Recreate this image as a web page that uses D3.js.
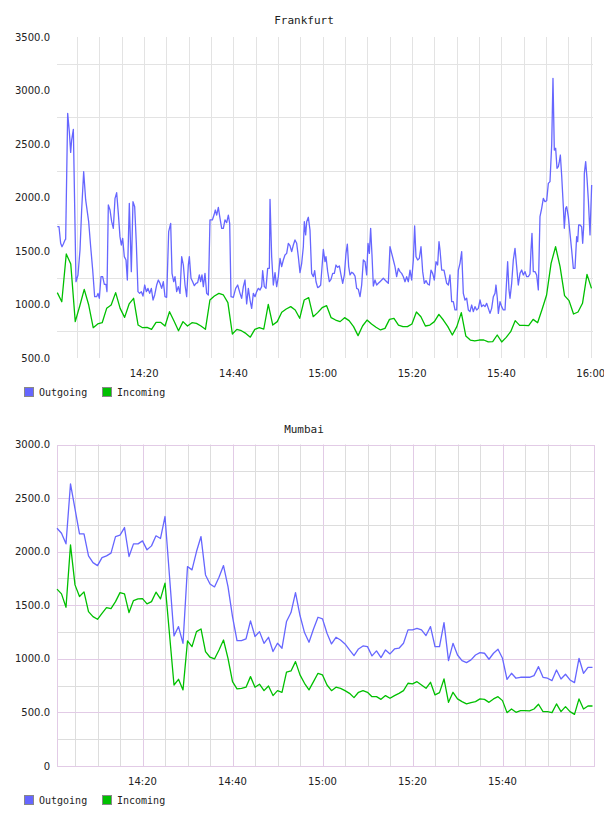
<!DOCTYPE html>
<html><head><meta charset="utf-8">
<script src="https://cdn.jsdelivr.net/npm/d3@7"></script>
<style>
html,body{margin:0;padding:0;background:#fff;}
svg{display:block;}
</style></head>
<body>
<svg id="c" width="604" height="816"></svg>
<script>
// ---------------- DATA ----------------
const seriesNames = ["Outgoing", "Incoming"];
const seriesColors = ["#6666ff", "#00c000"];

// Frankfurt outgoing: minutes after 14:00 and values
const fraOutT = [0.57,0.95,1.32,1.62,1.92,2.29,2.44,2.89,3.26,3.56,3.78,4.16,4.75,5.2,5.65,6.02,6.47,6.92,7.59,8.04,8.49,8.93,9.38,9.68,9.98,10.35,10.72,11.1,11.47,11.69,11.99,12.37,12.74,13.11,13.49,13.86,14.23,14.6,14.9,15.2,15.57,15.95,16.25,16.69,17.14,17.51,17.89,18.26,18.63,19.0,19.38,19.75,20.13,20.5,20.87,21.25,21.62,22.0,22.37,22.81,23.19,23.56,23.93,24.31,24.68,25.05,25.5,25.95,26.25,26.62,26.92,27.29,27.66,28.04,28.41,28.79,29.16,29.53,29.9,30.13,30.5,30.87,31.25,31.62,31.99,32.37,32.66,32.96,33.26,33.63,34.01,34.38,34.75,35.28,35.65,35.95,36.25,36.62,37.0,37.37,37.74,38.11,38.49,38.86,39.16,39.46,39.98,40.5,40.95,41.47,
41.84,42.22,42.59,42.96,43.34,43.71,44.08,44.46,44.83,45.2,45.57,45.95,46.32,46.54,46.92,47.29,47.66,48.04,48.19,48.56,48.93,49.31,49.68,50.05,50.43,50.8,51.17,51.54,51.92,52.29,52.66,53.04,53.41,53.78,54.16,54.53,54.9,55.28,55.65,55.87,56.17,56.4,56.77,57.14,57.51,57.89,58.19,58.49,58.86,59.23,59.53,60.13,60.5,60.72,61.1,61.47,61.84,62.22,62.59,62.96,63.34,63.71,64.08,64.46,64.83,65.2,65.5,65.8,66.1,66.47,66.84,67.22,67.59,67.96,68.34,68.71,69.08,69.46,69.83,70.13,70.43,70.72,71.02,71.32,71.69,72.07,72.44,72.81,73.19,73.56,73.93,74.31,74.68,75.05,75.43,75.8,76.17,76.54,76.92,77.29,77.66,78.04,78.41,78.78,79.16,79.53,79.9,80.28,80.57,80.87,81.25,81.62,81.99,82.37,82.74,83.11,83.49,83.86,84.23,84.6,84.98,85.35,85.72,86.02,86.25,
86.62,87.14,87.74,88.11,88.48,88.86,89.23,89.6,89.98,90.35,90.72,91.1,91.47,91.84,92.22,92.59,92.96,93.33,93.71,94.08,94.45,94.83,95.2,95.57,95.95,96.32,96.69,97.07,97.44,97.81,98.19,98.56,98.78,99.08,99.31,99.68,100.05,100.42,100.8,101.17,101.39,101.69,101.92,102.29,102.66,103.04,103.41,103.78,104.16,104.53,104.9,105.28,105.65,106.02,106.39,106.62,106.84,107.14,107.51,107.89,108.26,108.63,109.01,109.38,109.75,110.13,110.5,110.87,111.25,111.54,111.84,112.14,112.44,112.74,112.96,113.19,113.48,113.86,114.08,114.38,114.6,114.98,115.35,115.72,116.1,116.47,116.84,117.07,117.29,117.59,117.96,118.19,118.41,118.56,118.86,119.16,119.46,119.83,120.2];
const fraOut = [1727,1727,1572,1540,1565,1603,1609,2787,2615,2422,2537,2637,1213,1276,1509,1883,2241,1977,1774,1540,1322,1073,1073,1104,1058,1260,1260,1188,1188,1120,1930,1883,1774,1712,1992,2045,1852,1634,1556,1618,1447,1416,1229,1946,1307,1961,1914,1572,1120,1104,1120,1079,1182,1120,1151,1104,1151,1042,1089,1182,1229,1198,1151,1213,1073,1067,1681,1759,1291,1213,1260,1120,1167,1104,1447,1369,1182,1073,1369,1447,1245,1213,1176,1198,1204,1276,1213,1276,1167,1291,1104,1089,1790,1790,1836,1883,1836,1908,1805,1712,1712,1790,1765,1836,1759,1073,1067,1151,1182,1104,
1058,1167,1229,1005,1151,1042,964,1104,1073,1120,1151,1136,1167,1316,1167,1151,1338,1338,1983,1447,1182,1298,1167,1260,1431,1354,1416,1463,1478,1572,1550,1494,1556,1603,1572,1447,1298,1385,1540,1774,1650,1774,1815,1696,1291,1260,1316,1213,1157,1167,1182,1516,1400,1447,1307,1213,1235,1291,1291,1369,1347,1360,1276,1198,1276,1478,1565,1354,1276,1301,1291,1266,1151,1142,1073,1182,1416,1400,1276,1572,1478,1712,1463,1173,1229,1182,1198,1213,1229,1245,1229,1213,1198,1540,1478,1416,1354,1260,1338,1307,1291,1260,1213,1260,1213,1322,1229,1416,1734,1447,1416,1431,1540,1307,1198,1223,1192,1182,1322,1291,1229,1400,1369,1587,1509,
1322,1322,1198,1182,1276,1026,1026,949,949,1322,1385,1494,1104,1042,1058,949,933,995,933,980,949,964,1042,980,995,980,1011,964,917,964,1073,1104,1182,1058,917,1026,980,949,949,1229,1400,1136,1058,1198,1416,1525,1354,1182,1291,1322,1276,1307,1260,1260,1285,1509,1665,1307,1307,1276,1136,1821,1899,1992,1961,1970,2132,2148,2491,3114,2444,2460,2273,2288,2335,2397,2210,1914,1712,1899,1914,1821,1665,1509,1338,1338,1634,1587,1743,1743,1727,1572,1727,2226,2335,2179,1977,1650,2117];

// Frankfurt incoming: one sample per ~minute from 14:00:34
const fraIn = [1111,1026,1472,1378,840,986,1142,995,783,818,830,964,995,1111,964,880,1005,1058,808,783,787,768,833,833,799,933,846,755,840,799,830,824,799,768,1042,1079,1104,1089,1017,724,768,
755,730,695,768,783,771,1002,808,840,927,958,980,949,871,1042,1064,886,924,970,989,877,855,840,877,849,793,709,799,855,818,787,762,777,861,871,808,793,793,818,930,886,799,808,840,908,
855,793,715,793,924,706,668,659,668,668,650,653,715,650,693,746,849,805,805,802,861,830,955,1089,1385,1540,1354,1083,1036,911,930,1011,1282,1151];

// Mumbai: one sample per minute from 14:01
const mumOut = [2219,2172,2073,2633,2400,2166,2166,1961,1898,1870,1945,1961,1986,2141,2154,2225,1955,2073,2073,2101,2017,2054,2148,2123,2328,1770,1214,1301,1145,1861,1830,2001,2141,1783,1699,1671,1762,1870,1674,1394,1170,1170,1186,1354,1208,1254,1145,1201,1068,1145,1099,1348,1432,1618,1404,1245,1155,1279,1388,1373,1239,1139,1201,1176,1139,1083,1030,1092,1120,1114,1027,1074,1012,1083,1046,1092,1099,1145,1270,1270,1285,1270,1217,1301,1114,1114,1338,983,1145,1036,983,965,990,1036,1058,1052,996,1052,1089,1005,809,865,819,828,828,828,843,927,828,819,797,896,812,856,803,778,1005,865,921,921];
const mumIn = [1650,1606,1481,2063,1690,1581,1625,1441,1394,1369,1425,1478,1469,1534,1618,1606,1432,1544,1559,1562,1513,1534,1622,1559,1706,1230,756,809,710,1167,1114,1254,1279,1068,1015,999,1083,1176,1005,787,719,725,735,834,735,763,703,747,657,703,688,875,887,974,850,772,710,787,865,850,756,703,735,725,703,678,638,688,703,688,647,647,622,657,632,657,678,703,772,766,787,756,725,781,663,685,812,594,688,626,601,579,591,601,626,622,594,626,647,610,498,532,501,517,517,514,532,576,507,507,498,579,507,554,507,482,626,532,560,560];

const fraXLabels = ["14:20","14:40","15:00","15:20","15:40","16:00"];
const mumXLabels = ["14:20","14:40","15:00","15:20","15:40"];
const fraYTicks = [500,1000,1500,2000,2500,3000,3500];
const mumYTicks = [0,500,1000,1500,2000,2500,3000];

// ---------------- DRAW ----------------
const svg = d3.select("#c");
const T = (h, m, s) => new Date(2000, 0, 1, h, m, s || 0);
const parseHM = s => { const [h, m] = s.split(":").map(Number); return T(h, m); };
const fmtY = v => v === 0 ? "0" : v.toFixed(1);

function drawChart(o) {
  const g = svg.append("g");
  const x = d3.scaleTime().domain(o.xDomain).range([o.left, o.right]);
  const y = d3.scaleLinear().domain(o.yDomain).range([o.bottom, o.top]);

  // vertical grid every 5 minutes
  const vt = d3.timeMinute.every(5).range(o.gridStart, o.gridEnd);
  const majorSet = new Set(o.xLabels.map(s => +parseHM(s)));
  g.append("g").selectAll("line").data(vt).join("line")
    .attr("x1", d => Math.round(x(d)) + 0.5).attr("x2", d => Math.round(x(d)) + 0.5)
    .attr("y1", o.top).attr("y2", o.bottom)
    .attr("stroke", d => (o.majorColor && majorSet.has(+d)) ? o.majorColor : o.minorColor)
    .attr("stroke-width", 1);
  // horizontal grid
  g.append("g").selectAll("line").data(o.hMinor).join("line")
    .attr("x1", o.left).attr("x2", o.right)
    .attr("y1", d => Math.round(y(d)) + 0.5).attr("y2", d => Math.round(y(d)) + 0.5)
    .attr("stroke", o.minorColor);
  if (o.majorColor) {
    g.append("g").selectAll("line").data(o.yTicks).join("line")
      .attr("x1", o.left).attr("x2", o.right)
      .attr("y1", d => Math.round(y(d)) + 0.5).attr("y2", d => Math.round(y(d)) + 0.5)
      .attr("stroke", o.majorColor);
    g.append("rect").attr("x", o.left + 0.5).attr("y", Math.round(o.top) + 0.5)
      .attr("width", o.right - o.left).attr("height", Math.round(o.bottom) - Math.round(o.top))
      .attr("fill", "none").attr("stroke", o.majorColor);
  }

  // lines
  const line = d3.line().x(d => x(d[0])).y(d => y(d[1]));
  o.series.forEach((s, k) => {
    g.append("path").datum(s).attr("d", line).attr("fill", "none")
      .attr("stroke", seriesColors[k]).attr("stroke-width", 1.3)
      .attr("stroke-linejoin", "round");
  });

  // y labels
  g.append("g").selectAll("text").data(o.yTicks).join("text")
    .attr("x", 50).attr("y", d => y(d)).attr("dy", "0.35em")
    .attr("text-anchor", "end").attr("font-family", "DejaVu Sans").attr("font-size", 10)
    .attr("fill", "#222").text(fmtY);
  // x labels
  g.append("g").selectAll("text").data(o.xLabels).join("text")
    .attr("x", d => x(parseHM(d))).attr("y", o.bottom + 19)
    .attr("text-anchor", "middle").attr("font-family", "DejaVu Sans").attr("font-size", 10)
    .attr("fill", "#222").text(d => d);
  // title
  g.append("text").attr("x", 304).attr("y", o.titleY)
    .attr("text-anchor", "middle").attr("font-family", "DejaVu Sans Mono").attr("font-size", 11)
    .attr("fill", "#222").text(o.title);
  // legend
  const lg = g.append("g").attr("transform", `translate(0,${o.bottom + 29})`);
  const lx = [24, 102];
  seriesNames.forEach((n, k) => {
    lg.append("rect").attr("x", lx[k] + 0.5).attr("y", 0.5).attr("width", 9).attr("height", 9)
      .attr("fill", seriesColors[k]).attr("stroke", "#888");
    lg.append("text").attr("x", lx[k] + 15).attr("y", 8.5)
      .attr("font-family", "DejaVu Sans Mono").attr("font-size", 10).attr("fill", "#222").text(n);
  });
}

const fraBase = T(14, 0);
const fraOutPts = fraOutT.map((m, i) => [new Date(+fraBase + m * 60000), fraOut[i]]);
const fraInStart = T(14, 0, 34);
const fraInPts = fraIn.map((v, i) => [new Date(+fraInStart + i * 60300), v]);
drawChart({
  title: "Frankfurt", titleY: 24,
  xDomain: [T(14, 0, 30), T(16, 0, 30)], left: 57, right: 593,
  yDomain: [500, 3500], top: 37, bottom: 358,
  gridStart: T(14, 5), gridEnd: T(16, 0, 1),
  hMinor: [750, 1250, 1750, 2250, 2750, 3250],
  yTicks: fraYTicks, xLabels: fraXLabels,
  minorColor: "#e3e3e3", majorColor: null,
  series: [fraOutPts, fraInPts]
});

const mumStart = T(14, 1);
const mumOutPts = mumOut.map((v, i) => [new Date(+mumStart + i * 60000), v]);
const mumInPts = mumIn.map((v, i) => [new Date(+mumStart + i * 60000), v]);
drawChart({
  title: "Mumbai", titleY: 433,
  xDomain: [T(14, 1), T(16, 0, 20)], left: 57, right: 594,
  yDomain: [0, 3000], top: 444.5, bottom: 766,
  gridStart: T(14, 5), gridEnd: T(15, 55, 1),
  hMinor: [250, 750, 1250, 1750, 2250, 2750],
  yTicks: mumYTicks, xLabels: mumXLabels,
  minorColor: "#dddddd", majorColor: "#e2cbe6",
  series: [mumOutPts, mumInPts]
});
</script>
</body></html>
